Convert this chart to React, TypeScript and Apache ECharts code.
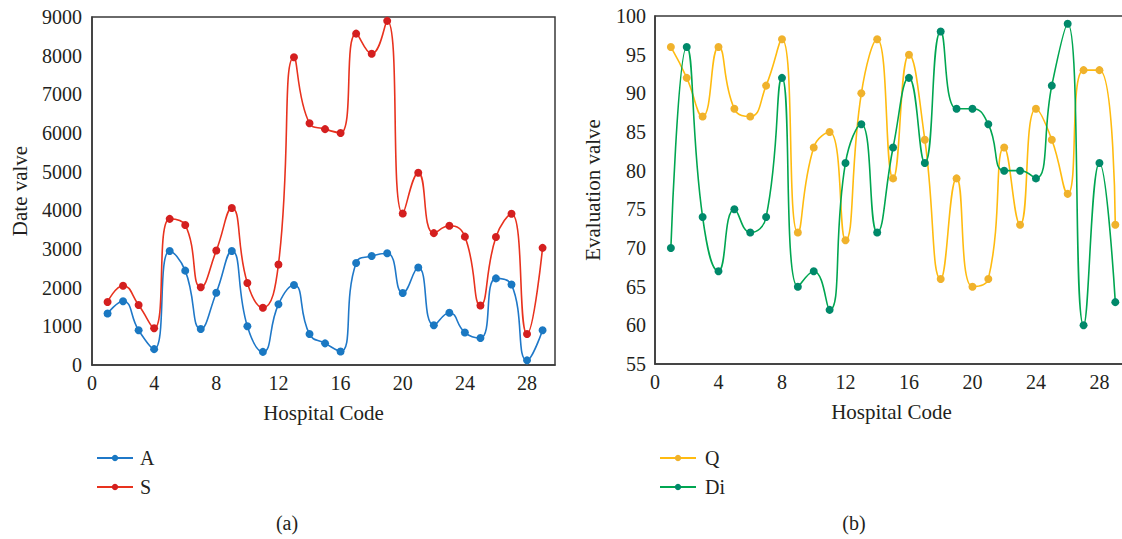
import React, { useEffect, useRef } from "react";
import * as echarts from "echarts";

const hospitalCodes = [1,2,3,4,5,6,7,8,9,10,11,12,13,14,15,16,17,18,19,20,21,22,23,24,25,26,27,28,29];
const seriesA = [1330,1650,900,410,2950,2440,930,1870,2950,1000,340,1570,2070,800,560,350,2640,2820,2890,1860,2520,1030,1350,840,700,2240,2080,120,900];
const seriesS = [1630,2050,1550,950,3780,3620,2010,2960,4060,2120,1480,2600,7960,6250,6100,6000,8570,8050,8900,3920,4970,3410,3600,3320,1540,3310,3910,800,3030];
const seriesQ = [96,92,87,96,88,87,91,97,72,83,85,71,90,97,79,95,84,66,79,65,66,83,73,88,84,77,93,93,73];
const seriesDi = [70,96,74,67,75,72,74,92,65,67,62,81,86,72,83,92,81,98,88,88,86,80,80,79,91,99,60,81,63];
const leftYTicks = { min: 0, max: 9000, interval: 1000 };
const rightYTicks = { min: 55, max: 100, interval: 5 };

const FONT = "Liberation Serif";
const TXT = "#231f20";
const AX = "#3a3a3a";

const pairs = (vals: number[]) => hospitalCodes.map((c, i) => [c, vals[i]]);

export default function App() {
  const ref = useRef<HTMLDivElement>(null);
  useEffect(() => {
    if (!ref.current) return;
    const chart = echarts.init(ref.current, null, { renderer: "svg" });
    const labelStyle = {
      fontFamily: FONT,
      fontSize: 20,
      color: TXT,
      formatter: (v: number) => "{t|" + v + "}",
      rich: { t: { fontFamily: FONT, fontSize: 20, color: TXT } },
    };
    const xAxisBase = (gridIndex: number) => ({
      type: "value" as const,
      gridIndex,
      min: 0,
      max: 29.8,
      interval: 4,
      name: "Hospital Code",
      nameLocation: "middle" as const,
      nameGap: 37,
      nameTextStyle: { fontFamily: FONT, fontSize: 21, color: TXT },
      axisLine: { show: true, lineStyle: { color: AX, width: 1.5 } },
      axisTick: { show: false },
      splitLine: { show: false },
      axisLabel: { ...labelStyle, showMaxLabel: false, margin: 8 },
    });
    const mkSeries = (name: string, vals: number[], idx: number, lineColor: string, dotColor: string) => ({
      name,
      type: "line" as const,
      xAxisIndex: idx,
      yAxisIndex: idx,
      data: pairs(vals),
      smooth: 0.5,
      symbol: "circle",
      symbolSize: 8,
      showSymbol: true,
      lineStyle: { color: lineColor, width: 1.6 },
      itemStyle: { color: dotColor, borderWidth: 0 },
    });
    chart.setOption({
      animation: false,
      backgroundColor: "#ffffff",
      textStyle: { fontFamily: FONT },
      title: [
        { text: "(a)", left: 282, top: 508, textAlign: "center", textStyle: { fontFamily: FONT, fontSize: 20, fontWeight: "normal", color: TXT } },
        { text: "(b)", left: 849, top: 508, textAlign: "center", textStyle: { fontFamily: FONT, fontSize: 20, fontWeight: "normal", color: TXT } },
      ],
      legend: [
        {
          data: ["A", "S"], orient: "vertical", left: 91, top: 443, itemWidth: 36, itemHeight: 8, itemGap: 9,
          textStyle: { fontFamily: FONT, fontSize: 20, color: TXT, padding: [0, 0, 0, 2] },
        },
        {
          data: ["Q", "Di"], orient: "vertical", left: 654, top: 443, itemWidth: 36, itemHeight: 8, itemGap: 9,
          textStyle: { fontFamily: FONT, fontSize: 20, color: TXT, padding: [0, 0, 0, 4] },
        },
      ],
      grid: [
        { left: 92, top: 17, width: 463, height: 348, show: true, borderColor: AX, borderWidth: 1.5, backgroundColor: "transparent" },
        { left: 655, top: 16, width: 473, height: 348, show: true, borderColor: AX, borderWidth: 1.5, backgroundColor: "transparent" },
      ],
      xAxis: [xAxisBase(0), xAxisBase(1)],
      yAxis: [
        {
          type: "value", gridIndex: 0, ...leftYTicks,
          name: "Date valve", nameLocation: "middle", nameGap: 62,
          nameTextStyle: { fontFamily: FONT, fontSize: 21, color: TXT },
          axisLine: { show: true, lineStyle: { color: AX, width: 1.5 } },
          axisTick: { show: false }, splitLine: { show: false },
          axisLabel: { ...labelStyle, margin: 10 },
        },
        {
          type: "value", gridIndex: 1, ...rightYTicks,
          name: "Evaluation valve", nameLocation: "middle", nameGap: 52,
          nameTextStyle: { fontFamily: FONT, fontSize: 21, color: TXT },
          axisLine: { show: true, lineStyle: { color: AX, width: 1.5 } },
          axisTick: { show: false }, splitLine: { show: false },
          axisLabel: { ...labelStyle, margin: 9 },
        },
      ],
      series: [
        mkSeries("A", seriesA, 0, "#1f78c8", "#1a78c2"),
        mkSeries("S", seriesS, 0, "#e8321e", "#d41f1f"),
        mkSeries("Q", seriesQ, 1, "#ffbb10", "#f0b22c"),
        mkSeries("Di", seriesDi, 1, "#00a651", "#00896a"),
      ],
    });
    return () => chart.dispose();
  }, []);
  return <div ref={ref} style={{ position: "fixed", left: 0, top: 0, width: 1135, height: 539 }} />;
}
